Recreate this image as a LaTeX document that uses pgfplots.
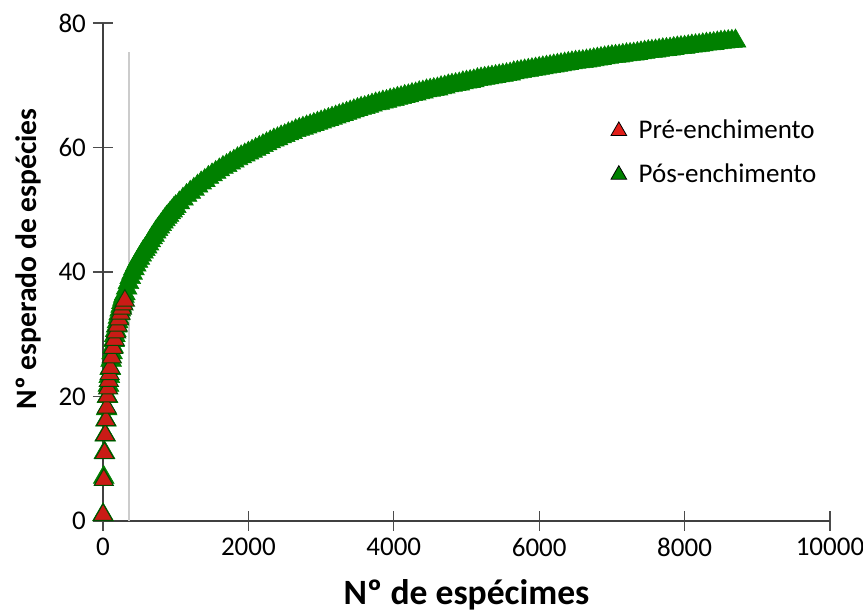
\documentclass[border=0pt]{standalone}
\usepackage{pgfplots}
\pgfplotsset{compat=1.18}
\usepackage{fontspec}
\setmainfont{Carlito}
\definecolor{pregreen}{RGB}{0,128,0}
\definecolor{prered}{RGB}{225,30,25}
\begin{document}
\begin{tikzpicture}
\begin{axis}[
  scale only axis, width=363.5pt, height=249pt,
  xmin=0, xmax=10000, ymin=0, ymax=80,
  axis x line*=bottom, axis y line*=left,
  axis line style={black!75, line width=0.6pt},
  xtick={0,2000,...,10000}, ytick={0,20,...,80},
  scaled x ticks=false,
  tick align=center, major tick length=10pt,
  tick style={black!70, line width=0.6pt},
  minor tick num=0,
  /pgf/number format/assume math mode=true,
  /pgf/number format/1000 sep={},
  tick label style={font=\fontsize{13.5}{15}\selectfont},
  xlabel={\textbf{Nº de espécimes}},
  ylabel={\textbf{Nº esperado de espécies}},
  xlabel style={font=\fontsize{17.8}{18}\selectfont, at={(0.5,0)}, anchor=center, yshift=-37pt},
  ylabel style={font=\fontsize{14.8}{16}\selectfont, at={(0,0.5)}, anchor=center, yshift=37.5pt, xshift=6.5pt},
  clip=false,
  legend style={at={(0.69,0.822)}, anchor=north west, draw=none, fill=none,
    font=\fontsize{13.5}{15}\selectfont, row sep=7pt},
  legend cell align=left,
]
\addlegendimage{only marks, mark=triangle*, mark size=4.5pt, mark options={fill=prered, draw=none}}
\addlegendentry{\hspace*{4pt}Pré-enchimento}
\addlegendimage{only marks, mark=triangle*, mark size=4.5pt, mark options={fill=pregreen, draw=none}}
\addlegendentry{\hspace*{4pt}Pós-enchimento}
\addplot[only marks, mark=triangle*, mark size=6pt, forget plot,
  mark options={fill=pregreen, draw=pregreen, line width=0.3pt}]
coordinates {
(1,1) (10,7) (20,11) (30,13.8) (40,16.2) (50,18) (62,20) (75,21.8) (87,23.2) (100,24.5) (112,25.8) (125,27) (137,28) (150,29)
(162,29.8) (175,30.6) (187,31.3) (200,32) (212,32.7) (225,33.3) (237,33.9) (250,34.5) (262,35.1) (275,35.6) (287,36.1) (300,36.5)
(325,37.4) (350,38.3) (375,39.1) (400,39.8) (425,40.5)
(450,41.1) (475,41.7) (500,42.2) (525,42.7) (550,43.2) (575,43.6) (600,44.0) (625,44.5) (650,45) (675,45.5) (700,45.9) (725,46.4) (750,46.8) (775,47.2) (800,47.6) (825,48.0) (850,48.4) (875,48.8) (900,49.1)
(925,49.5) (950,49.8) (975,50.2) (1000,50.5) (1050,51.1) (1100,51.7) (1150,52.3) (1200,52.8) (1250,53.3) (1300,53.8) (1350,54.3) (1400,54.7) (1450,55.2) (1500,55.6) (1550,56.0) (1600,56.4) (1650,56.8) (1700,57.1) (1750,57.5) (1800,57.8)
(1850,58.2) (1900,58.5) (1950,58.8) (2000,59.1) (2050,59.4) (2100,59.7) (2150,60.0) (2200,60.3) (2250,60.6) (2300,60.9) (2350,61.2) (2400,61.4) (2450,61.7) (2500,61.9) (2550,62.2) (2600,62.4) (2650,62.7) (2700,62.9) (2750,63.1) (2800,63.3)
(2850,63.5) (2900,63.7) (2950,63.9) (3000,64.1) (3050,64.3) (3100,64.5) (3150,64.7) (3200,64.9) (3250,65.1) (3300,65.3) (3350,65.5) (3400,65.7) (3450,65.9) (3500,66.1) (3550,66.3) (3600,66.4) (3650,66.6) (3700,66.8) (3750,67.0) (3800,67.1)
(3850,67.3) (3900,67.4) (3950,67.6) (4000,67.7) (4050,67.9) (4100,68.0) (4150,68.2) (4200,68.3) (4250,68.5) (4300,68.6) (4350,68.8) (4400,68.9) (4450,69.1) (4500,69.2) (4550,69.3) (4600,69.4) (4650,69.6) (4700,69.7) (4750,69.9) (4800,70.0)
(4850,70.1) (4900,70.2) (4950,70.4) (5000,70.5) (5050,70.6) (5100,70.7) (5150,70.9) (5200,71.0) (5250,71.1) (5300,71.2) (5350,71.3) (5400,71.4) (5450,71.5) (5500,71.6) (5550,71.7) (5600,71.8) (5650,72.0) (5700,72.1) (5750,72.2) (5800,72.3)
(5850,72.4) (5900,72.5) (5950,72.6) (6000,72.7) (6050,72.8) (6100,72.9) (6150,73.0) (6200,73.1) (6250,73.2) (6300,73.3) (6350,73.4) (6400,73.5) (6450,73.6) (6500,73.7) (6550,73.75) (6600,73.8) (6650,73.9) (6700,74.0) (6750,74.1) (6800,74.2)
(6850,74.3) (6900,74.4) (6950,74.5) (7000,74.6) (7050,74.65) (7100,74.7) (7150,74.8) (7200,74.9) (7250,74.95) (7300,75.0) (7350,75.1) (7400,75.2) (7450,75.3) (7500,75.4) (7550,75.45) (7600,75.5) (7650,75.6) (7700,75.7) (7750,75.75) (7800,75.8)
(7850,75.9) (7900,76.0) (7950,76.05) (8000,76.1) (8050,76.2) (8100,76.3) (8150,76.35) (8200,76.4) (8250,76.5) (8300,76.6) (8350,76.65) (8400,76.7) (8450,76.8) (8500,76.9) (8550,76.95) (8600,77.0) (8650,77.05) (8700,77.1)
};
\addplot[only marks, mark=triangle*, mark size=5.5pt, forget plot,
  mark options={fill=prered!90!black, draw=black!70!green, line width=0.5pt}]
coordinates {
(1,1) (11,6.6) (21,10.9) (31,13.8) (41,16.2) (51,18.2) (61,20) (71,21.3) (81,22.5) (91,23.6)
(101,24.6) (121,26.3) (141,27.8) (161,29.1) (181,30.3) (201,31.4) (221,32.4) (241,33.3)
(261,34.1) (281,34.8) (301,35.4)
};
\addplot[black!20, line width=0.7pt, forget plot] coordinates {(360,0) (360,75.3)};
\end{axis}
\pgfresetboundingbox
\path (current axis.south west) ++(-51.5pt,-45pt) rectangle ++(431.5pt,305.5pt);
\end{tikzpicture}
\end{document}
